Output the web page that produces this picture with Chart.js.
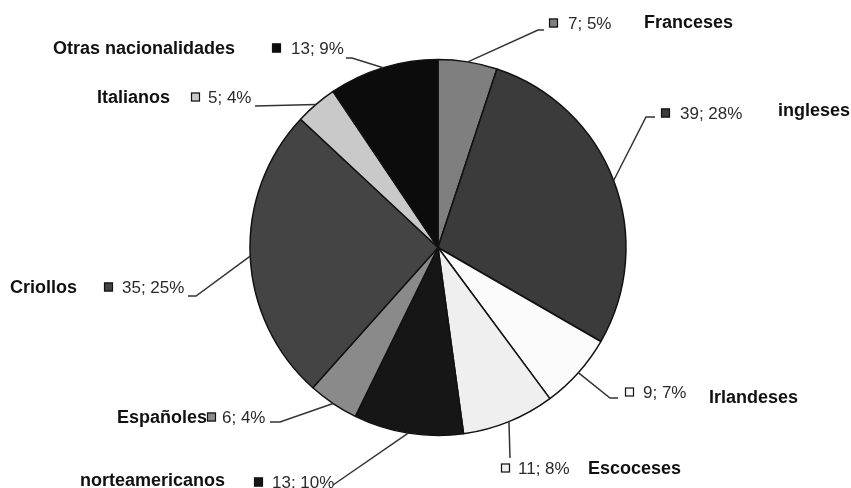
<!DOCTYPE html>
<html>
<head>
<meta charset="utf-8">
<script src="https://cdn.jsdelivr.net/npm/chart.js@4.4.1/dist/chart.umd.min.js"></script>
<style>
  html, body { margin: 0; padding: 0; background: #fff; }
  #wrap { width: 851px; height: 488px; position: relative; }
</style>
</head>
<body>
<div id="wrap"><canvas id="pie"></canvas></div>
<script>
/***************************************
 * Data
 ***************************************/
const categories = ['Franceses', 'ingleses', 'Irlandeses', 'Escoceses', 'norteamericanos',
  'Españoles', 'Criollos', 'Italianos', 'Otras nacionalidades'];
const counts = [7, 39, 9, 11, 13, 6, 35, 5, 13];
const percents = ['5%', '28%', '7%', '8%', '10%', '4%', '25%', '4%', '9%'];

// slice fills (grayscale, as in the scan)
const sliceColors = ['#7f7f7f', '#3b3b3b', '#fbfbfb', '#efefef', '#161616',
  '#8a8a8a', '#444444', '#c9c9c9', '#0c0c0c'];

// label layout: leader elbow/end, marker + value + name placement (pixels)
const labelLayout = [
  { elbow: [538, 30], end: [544, 30], mx: 549, vx: 568, vy: 23, nx: 644, ny: 22 },
  { elbow: [646, 117], end: [655, 117], mx: 661, vx: 680, vy: 113, nx: 778, ny: 110 },
  { elbow: [610, 398], end: [618, 398], mx: 625, vx: 643, vy: 392, nx: 709, ny: 397 },
  { elbow: [510, 458], end: [510, 458], mx: 501, vx: 518, vy: 468, nx: 588, ny: 468 },
  { elbow: [333, 485], end: [333, 485], mx: 254, vx: 272, vy: 482, nx: 80, ny: 480 },
  { elbow: [280, 422], end: [270, 422], mx: 207, vx: 222, vy: 417, nx: 117, ny: 417 },
  { elbow: [196, 296], end: [188, 296], mx: 104, vx: 122, vy: 287, nx: 10, ny: 287 },
  { elbow: [255, 106], end: [255, 106], mx: 191, vx: 208, vy: 97, nx: 97, ny: 97 },
  { elbow: [352, 58], end: [346, 58], mx: 272, vx: 291, vy: 48, nx: 53, ny: 48 }
];

/***************************************
 * Plugin: leader lines + labels
 ***************************************/
const pieLabels = {
  id: 'pieLabels',
  afterDatasetsDraw(chart) {
    const ctx = chart.ctx;
    const meta = chart.getDatasetMeta(0);
    ctx.save();
    meta.data.forEach((arc, i) => {
      const lay = labelLayout[i];
      const mid = (arc.startAngle + arc.endAngle) / 2;
      const sx = arc.x + Math.cos(mid) * arc.outerRadius;
      const sy = arc.y + Math.sin(mid) * arc.outerRadius;

      // leader line
      ctx.strokeStyle = '#333';
      ctx.lineWidth = 1.5;
      ctx.beginPath();
      ctx.moveTo(sx, sy);
      ctx.lineTo(lay.elbow[0], lay.elbow[1]);
      ctx.lineTo(lay.end[0], lay.end[1]);
      ctx.stroke();

      // marker square
      ctx.fillStyle = sliceColors[i];
      ctx.fillRect(lay.mx, lay.vy - 4.5, 9, 9);
      ctx.strokeStyle = '#111';
      ctx.lineWidth = 1.2;
      ctx.strokeRect(lay.mx + 0.5, lay.vy - 4, 8, 8);

      // value text
      ctx.fillStyle = '#2a2a2a';
      ctx.textBaseline = 'middle';
      ctx.textAlign = 'left';
      ctx.font = '17px "Liberation Sans", Arial, sans-serif';
      ctx.fillText(counts[i] + '; ' + percents[i], lay.vx, lay.vy + 1);

      // category name
      ctx.fillStyle = '#111';
      ctx.font = 'bold 18px "Liberation Sans", Arial, sans-serif';
      ctx.fillText(categories[i], lay.nx, lay.ny + 1);
    });
    ctx.restore();
  }
};

/***************************************
 * Chart
 ***************************************/
const pieChart = new Chart(document.getElementById('pie').getContext('2d'), {
  type: 'pie',
  data: {
    labels: categories,
    datasets: [{
      data: counts,
      backgroundColor: sliceColors,
      borderColor: '#111',
      borderWidth: 1.5
    }]
  },
  options: {
    responsive: true,
    maintainAspectRatio: false,
    animation: false,
    radius: 188,
    layout: { padding: { top: 59, bottom: 52, left: 250, right: 225 } },
    plugins: {
      legend: { display: false },
      tooltip: { enabled: false }
    }
  },
  plugins: [pieLabels]
});
</script>
</body>
</html>
